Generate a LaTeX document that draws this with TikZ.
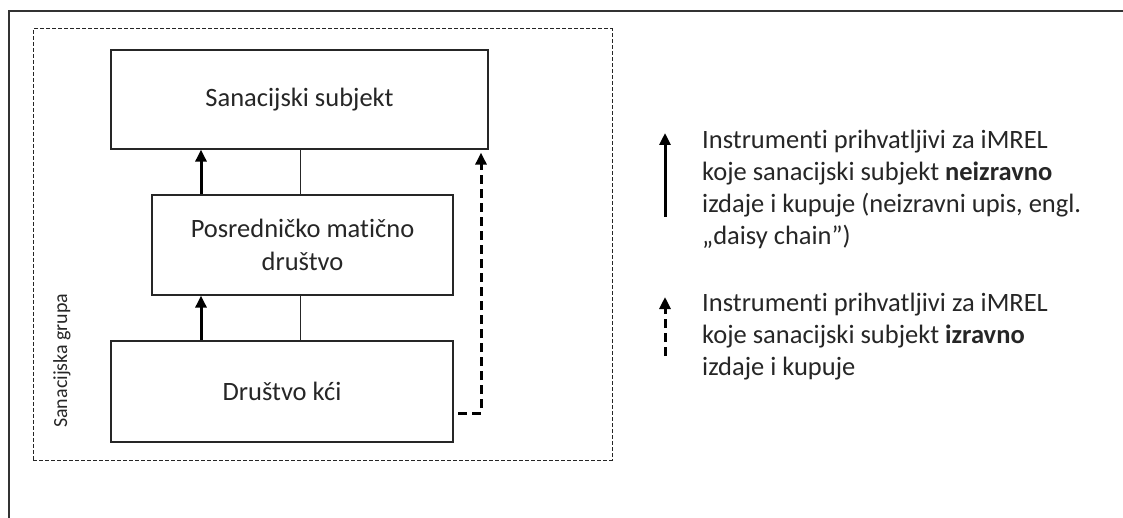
\documentclass[tikz,border=0pt]{standalone}
\usepackage{fontspec}
\setmainfont{Carlito}[Ligatures=NoCommon]
\usetikzlibrary{arrows.meta}
\begin{document}
\begin{tikzpicture}[x=1pt,y=-1pt,
  frame/.style={line width=1.6pt, draw=black!80},
  grp/.style={draw=black!85, line width=1pt, dash pattern=on 4pt off 2pt},
  box/.style={draw=black!85, line width=1.3pt, fill=white, inner sep=0pt,
    font=\fontsize{26.5}{32.3}\selectfont, text=black!85, align=center},
  conn/.style={line width=1pt, draw=black!85},
  solidarr/.style={line width=3pt, draw=black, -{Triangle[width=11pt,length=12pt]}},
  dasharr/.style={line width=3pt, draw=black, dash pattern=on 9pt off 5pt, -{Triangle[width=11pt,length=12pt]}},
  legtxt/.style={font=\fontsize{26.5}{32.3}\selectfont, text=black!85, anchor=base west, inner sep=0pt}]
\useasboundingbox (0,0) rectangle (1123,518);
% outer frame (only top and left visible)
\draw[frame] (9,518) -- (9,11) -- (1123,11);
% group rectangle
\node[grp, minimum width=579pt, minimum height=431pt, inner sep=0pt] (group) at (322.5,244.5) {};
\node[rotate=90, anchor=base west, inner sep=0pt, font=\fontsize{20}{24}\selectfont, text=black!85] (grplabel) at (67,428) {Sanacijska grupa};
% boxes
\node[box, minimum width=377pt, minimum height=99pt] (top) at (299.5,99.5) {Sanacijski subjekt};
\node[box, minimum width=301pt, minimum height=100pt] (mid) at (302.5,245) {Posredničko matično\\društvo};
\node[box, minimum width=342pt, minimum height=101pt] (bot) at (282,391.5) {Društvo kći};
% thin connectors
\coordinate (cx) at (300,0);
\draw[conn] (cx |- mid.north) -- (cx |- top.south);
\draw[conn] (cx |- bot.north) -- (cx |- mid.south);
% solid arrows
\coordinate (ax) at (201,0);
\draw[solidarr] (ax |- mid.north) -- (ax |- top.south);
\draw[solidarr] (ax |- bot.north) -- (ax |- mid.south);
% dashed arrow
\coordinate (dcorner) at (481,413);
\coordinate (dstart) at (458,413);
\draw[dasharr] (dstart) -- (dcorner) -- ([yshift=-3pt]dcorner |- top.south);
% legend
\coordinate (l1b) at (665,217);
\coordinate (l1t) at (665,133);
\draw[solidarr] (l1b) -- (l1t);
\coordinate (l2b) at (665,356);
\coordinate (l2t) at (665,297);
\draw[dasharr] (l2b) -- (l2t);
\node[legtxt] (a1) at (702,149) {Instrumenti prihvatljivi za iMREL};
\node[legtxt] (a2) at (702,181) {koje sanacijski subjekt \textbf{neizravno}};
\node[legtxt] (a3) at (702,213) {izdaje i kupuje (neizravni upis, engl.};
\node[legtxt] (a4) at (702,245) {„daisy chain”)};
\node[legtxt] (b1) at (702,311) {Instrumenti prihvatljivi za iMREL};
\node[legtxt] (b2) at (702,343) {koje sanacijski subjekt \textbf{izravno}};
\node[legtxt] (b3) at (702,375) {izdaje i kupuje};
\end{tikzpicture}
\end{document}
